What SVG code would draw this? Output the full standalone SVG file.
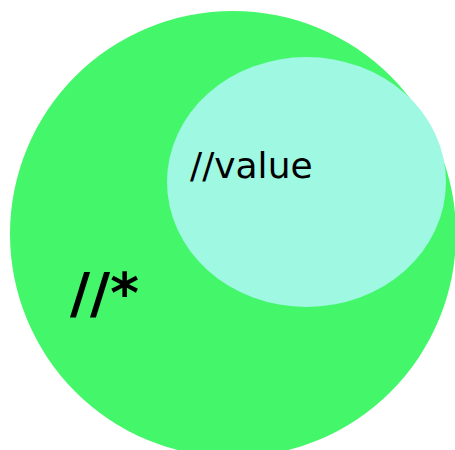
<svg xmlns="http://www.w3.org/2000/svg" width="455" height="450" viewBox="0 0 455 450">
<style>
text{font-family:"DejaVu Sans",sans-serif;fill:#000}
</style>
<rect width="455" height="450" fill="#fff"/>
<g id="all">
<circle cx="233" cy="234" r="223" fill="#44f66a"/>
<text x="70" y="312" font-size="55" font-weight="bold">//*</text>
</g>
<g id="value">
<ellipse cx="306.5" cy="182" rx="139.5" ry="125" fill="#9ff8e2"/>
<text x="190" y="178" font-size="36">//value</text>
</g>
<g id="connectors"/>
</svg>
